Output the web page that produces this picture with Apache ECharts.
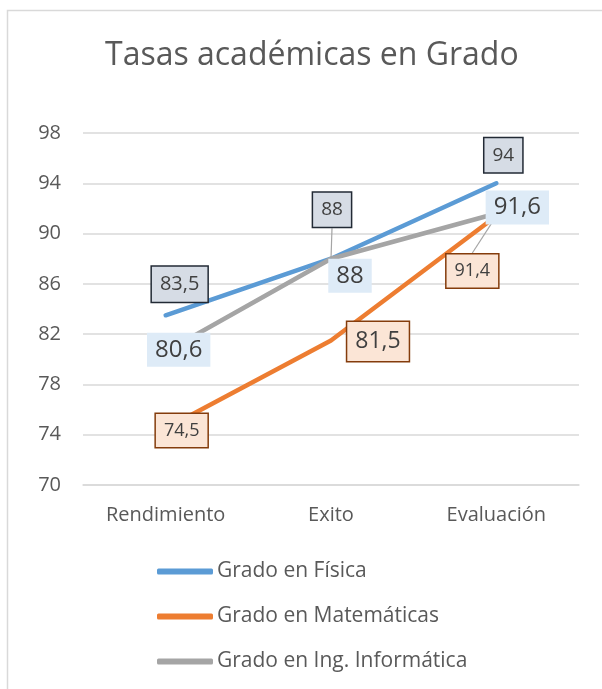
<!DOCTYPE html>
<html>
<head>
<meta charset="utf-8">
<script src="https://cdn.jsdelivr.net/npm/echarts@6/dist/echarts.min.js"></script>
<style>
  html, body { margin: 0; padding: 0; background: #fff; }
  #main { width: 602px; height: 689px; }
</style>
</head>
<body>
<div id="main"></div>
<script>
// datos
var categorias = ['Rendimiento', 'Exito', 'Evaluación'];
var fisica = [83.5, 88, 94];
var matematicas = [74.5, 81.5, 91.4];
var informatica = [80.6, 88, 91.6];
var nombres = ['Grado en Física', 'Grado en Matemáticas', 'Grado en Ing. Informática'];

var fuente = 'Open Sans';
var gris = '#595959';

// desplazamiento de cada etiqueta respecto a su punto
var desplaza = [
  [[14, -31], [1, -49], [7, -28]],
  [[16, 2], [47, 1], [-24, 55]],
  [[13, -2], [19, 17], [21, -6]]
];
var sizeFisica = [20, 19, 19];
var sizeMate = [18, 23, 18];
var sizeInfo = [24, 24, 24];

function fmt(p) {
  return String(p.value).replace('.', ',');
}

function items(vals, sizes, guides) {
  return vals.map(function (v, i) {
    var it = { value: v, label: { fontSize: sizes[i], lineHeight: Math.round(sizes[i] * 1.2) } };
    if (guides && guides[i]) it.labelLine = { show: true };
    return it;
  });
}

function mover(params) {
  var d = desplaza[params.seriesIndex][params.dataIndex];
  return { dx: d[0], dy: d[1] };
}

var myChart = echarts.init(document.getElementById('main'));

myChart.setOption({
  animation: false,
  textStyle: { fontFamily: fuente },
  title: {
    text: 'Tasas académicas en Grado',
    left: 100,
    top: 35,
    textStyle: { fontSize: 32, fontWeight: 'normal', color: gris, fontFamily: fuente }
  },
  graphic: [{
    type: 'rect',
    shape: { x: 7.5, y: 10.5, width: 700, height: 700 },
    style: { fill: 'none', stroke: '#D9D9D9', lineWidth: 1.5 },
    silent: true
  }],
  legend: {
    orient: 'vertical',
    left: 152,
    top: 556,
    itemGap: 24,
    itemWidth: 56,
    itemHeight: 6,
    icon: 'roundRect',
    textStyle: { fontSize: 21, color: gris, fontFamily: fuente, padding: [0, 0, 0, -1] },
    data: nombres
  },
  grid: { left: 83, right: 23, top: 133, bottom: 204 },
  xAxis: {
    type: 'category',
    data: categorias,
    axisLine: { lineStyle: { color: '#D9D9D9', width: 1.5 } },
    axisTick: { show: false },
    axisLabel: { fontSize: 20, color: gris, margin: 20 }
  },
  yAxis: {
    type: 'value',
    min: 70,
    max: 98,
    interval: 4,
    axisLine: { show: false },
    axisTick: { show: false },
    axisLabel: { fontSize: 20, color: gris, margin: 22 },
    splitLine: { lineStyle: { color: '#D9D9D9', width: 1.5 } }
  },
  series: [
    {
      name: nombres[0],
      type: 'line',
      symbol: 'circle',
      symbolSize: 1,
      color: '#5B9BD5',
      lineStyle: { width: 4.5, cap: 'round', join: 'round' },
      label: {
        show: true, position: 'inside', formatter: fmt,
        color: '#404040',
        backgroundColor: '#D6DCE5', borderColor: '#222A35', borderWidth: 1.5,
        padding: [6, 8, 5, 8]
      },
      labelLayout: mover,
      labelLine: { show: false, lineStyle: { color: '#A5A5A5', width: 1.2 } },
      data: items(fisica, sizeFisica, [false, true, false])
    },
    {
      name: nombres[1],
      type: 'line',
      symbol: 'circle',
      symbolSize: 1,
      color: '#ED7D31',
      lineStyle: { width: 4.5, cap: 'round', join: 'round' },
      label: {
        show: true, position: 'inside', formatter: fmt,
        color: '#404040',
        backgroundColor: '#FBE5D6', borderColor: '#843C0C', borderWidth: 1.5,
        padding: [6, 8, 5, 8]
      },
      labelLayout: mover,
      labelLine: { show: false, lineStyle: { color: '#A5A5A5', width: 1.2 } },
      data: items(matematicas, sizeMate, [false, false, true])
    },
    {
      name: nombres[2],
      type: 'line',
      symbol: 'circle',
      symbolSize: 1,
      color: '#A5A5A5',
      lineStyle: { width: 4.5, cap: 'round', join: 'round' },
      label: {
        show: true, position: 'inside', formatter: fmt,
        color: '#404040',
        backgroundColor: '#DEEBF7',
        padding: [3, 8, 2, 8]
      },
      labelLayout: mover,
      data: items(informatica, sizeInfo)
    }
  ]
});
</script>
</body>
</html>
